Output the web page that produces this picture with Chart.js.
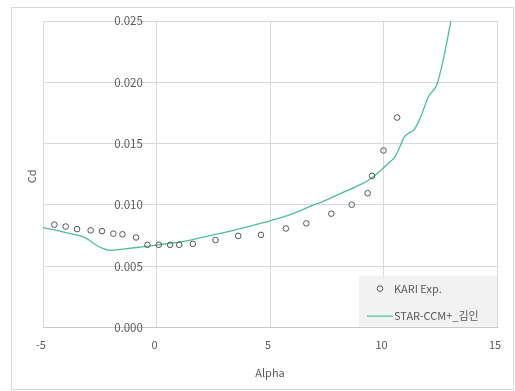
<!DOCTYPE html>
<html>
<head>
<meta charset="utf-8">
<script src="https://cdn.jsdelivr.net/npm/chart.js@4/dist/chart.umd.min.js"></script>
<style>
  html, body { margin: 0; padding: 0; background: #ffffff; }
  #wrap { width: 515px; height: 391px; }
</style>
</head>
<body>
<div id="wrap"><canvas id="c" width="515" height="391"></canvas></div>
<script>
// Experimental drag coefficients (KARI wind tunnel)
const expAlpha = [-4.5, -4.0, -3.5, -2.9, -2.4, -1.9, -1.5, -0.9, -0.4, 0.1, 0.6, 1.0,
                  1.6, 2.6, 3.6, 4.6, 5.7, 6.6, 7.7, 8.6, 9.3, 9.5, 10.0, 10.6];
const expCd = [0.00840, 0.00824, 0.00803, 0.00793, 0.00787, 0.00766, 0.00761, 0.00735,
               0.00675, 0.00675, 0.00675, 0.00675, 0.00683, 0.00714, 0.00748, 0.00756,
               0.00808, 0.00850, 0.00929, 0.01002, 0.01096, 0.01237, 0.01444, 0.01713];

// STAR-CCM+ computed drag curve
const simAlpha = [-5.0, -4.0, -3.1, -2.8, -2.4, -2.05, -1.5, -0.7, 0.1, 1.5, 2.5, 3.2,
                  4.0, 5.0, 6.0, 6.8, 7.5, 8.1, 8.8, 9.4, 9.9, 10.3, 10.5, 10.75,
                  10.9, 11.1, 11.33, 11.6, 12.0, 12.35, 12.65, 12.97, 13.1];
const simCd = [0.00816, 0.00775, 0.00730, 0.00690, 0.00648, 0.00630, 0.00640, 0.00657,
               0.00675, 0.00714, 0.00756, 0.00785, 0.00822, 0.00871, 0.00930, 0.00990,
               0.01042, 0.01093, 0.01150, 0.01210, 0.01285, 0.01355, 0.01390, 0.01486,
               0.01550, 0.01585, 0.01610, 0.01700, 0.01890, 0.01980, 0.02200, 0.02500, 0.02620];

const seriesNames = ['KARI Exp.', 'STAR-CCM+_김인'];
const xTicks = [-5, 0, 5, 10, 15];
const yTicks = [0.000, 0.005, 0.010, 0.015, 0.020, 0.025];

// the value axis crosses just left of alpha = 0 so its labels sit beside the zero line
const yAxisCross = -0.6;

const toPoints = (xs, ys) => xs.map((x, i) => ({ x: x, y: ys[i] }));

const FONT = '"Noto Sans CJK KR", "Noto Sans", sans-serif';
const TEXT = '#595959';
const GRID = '#d9d9d9';
const LINE = '#4dbd9f';

Chart.defaults.font.family = FONT;
Chart.defaults.color = TEXT;

// outer frame of the chart
const framePlugin = {
  id: 'frame',
  beforeDraw(chart) {
    const ctx = chart.ctx;
    ctx.save();
    ctx.fillStyle = '#ffffff';
    ctx.fillRect(0, 0, chart.width, chart.height);
    ctx.strokeStyle = GRID;
    ctx.lineWidth = 1;
    ctx.strokeRect(11.5, 7.5, 502, 382);
    ctx.restore();
  }
};

// boxed legend sitting in the lower-right corner of the plot
const boxLegend = {
  id: 'boxLegend',
  afterDatasetsDraw(chart) {
    const ctx = chart.ctx;
    const a = chart.chartArea;
    const w = 138, h = 51;
    const left = a.right - w, top = a.bottom - h - 1;
    const ds = chart.data.datasets;
    ctx.save();
    ctx.fillStyle = '#f2f2f2';
    ctx.fillRect(left, top, w, h);
    ctx.font = '11px ' + FONT;
    ctx.textBaseline = 'middle';
    ctx.textAlign = 'left';
    // scatter entry
    const y1 = top + 13;
    ctx.beginPath();
    ctx.arc(left + 21, y1, 2.8, 0, Math.PI * 2);
    ctx.strokeStyle = ds[0].borderColor;
    ctx.lineWidth = 1;
    ctx.stroke();
    ctx.fillStyle = TEXT;
    ctx.fillText(ds[0].label, left + 35, y1);
    // line entry
    const y2 = top + 40;
    ctx.beginPath();
    ctx.moveTo(left + 8, y2 + 0.5);
    ctx.lineTo(left + 34, y2 + 0.5);
    ctx.strokeStyle = ds[1].borderColor;
    ctx.lineWidth = 1.2;
    ctx.stroke();
    ctx.fillText(ds[1].label, left + 35, y2);
    ctx.restore();
  }
};

// rotated value-axis title
const yTitle = {
  id: 'yTitle',
  afterDraw(chart) {
    const ctx = chart.ctx;
    const a = chart.chartArea;
    ctx.save();
    ctx.translate(32, (a.top + a.bottom) / 2 + 2);
    ctx.rotate(-Math.PI / 2);
    ctx.font = '11px ' + FONT;
    ctx.fillStyle = TEXT;
    ctx.textAlign = 'center';
    ctx.textBaseline = 'middle';
    ctx.fillText('Cd', 0, 0);
    ctx.restore();
  }
};

new Chart(document.getElementById('c'), {
  type: 'scatter',
  data: {
    datasets: [
      {
        label: seriesNames[0],
        data: toPoints(expAlpha, expCd),
        showLine: false,
        pointStyle: 'circle',
        pointRadius: 2.8,
        pointBorderWidth: 1,
        borderColor: '#555555',
        backgroundColor: 'rgba(255,255,255,0)',
        order: 0
      },
      {
        label: seriesNames[1],
        data: toPoints(simAlpha, simCd),
        showLine: true,
        pointRadius: 0,
        borderColor: LINE,
        backgroundColor: LINE,
        borderWidth: 1.3,
        cubicInterpolationMode: 'monotone',
        order: 1
      }
    ]
  },
  options: {
    responsive: false,
    animation: false,
    devicePixelRatio: 1,
    layout: { padding: { left: 43, right: 18, top: 21, bottom: 8 } },
    plugins: {
      legend: { display: false },
      tooltip: { enabled: false }
    },
    scales: {
      x: {
        type: 'linear',
        position: 'bottom',
        min: -5,
        max: 15,
        afterBuildTicks(scale) { scale.ticks = xTicks.map(v => ({ value: v })); },
        grid: { color: GRID, drawTicks: false },
        border: { display: true, color: '#c8c8c8' },
        ticks: { padding: 11, font: { size: 11 }, color: TEXT, labelOffset: -2 },
        title: { display: true, text: 'Alpha', font: { size: 11 }, color: TEXT, padding: { top: 3, bottom: 4 } }
      },
      y: {
        type: 'linear',
        position: { x: yAxisCross },
        min: 0,
        max: 0.025,
        afterBuildTicks(scale) { scale.ticks = yTicks.map(v => ({ value: v })); },
        grid: { color: GRID, drawTicks: false },
        border: { display: false },
        ticks: {
          font: { size: 11.5 },
          color: TEXT,
          callback: v => Number(v).toFixed(3)
        }
      }
    }
  },
  plugins: [framePlugin, boxLegend, yTitle]
});
</script>
</body>
</html>
